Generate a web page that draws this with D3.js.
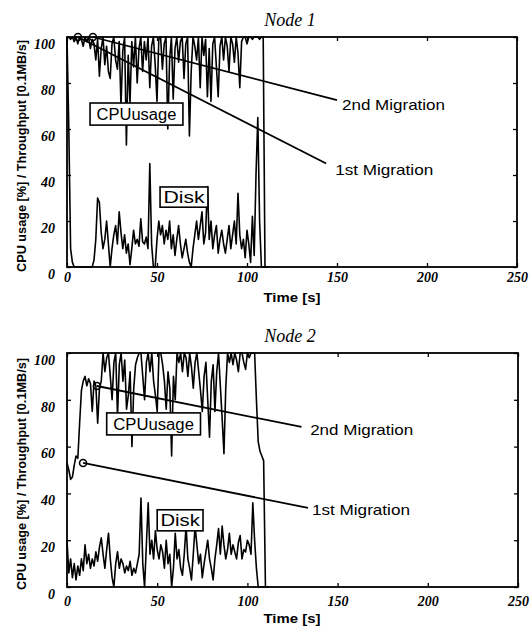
<!DOCTYPE html>
<meta charset="utf-8">
<style>
body { margin: 0; background: #fff; }
.frame { fill: none; stroke: #000; stroke-width: 1.8; }
.axis .domain { display: none; }
.axis .tick line { stroke: #000; stroke-width: 1.3; }
.axis .tick text { font-family: "Liberation Serif", serif; font-style: italic; font-weight: bold; font-size: 14px; fill: #000; }
.series { fill: none; stroke: #000; stroke-width: 1.6; stroke-linejoin: round; }
.note line { stroke: #000; stroke-width: 1.8; }
.note circle { fill: none; stroke: #000; stroke-width: 1.6; }
.note text, .box text { font-family: "Liberation Sans", Arial, sans-serif; font-size: 15px; fill: #000; }
.box rect { fill: #fff; stroke: #000; stroke-width: 1.6; }
.title { font-family: "Liberation Serif", serif; font-style: italic; font-size: 18px; }
.axis-label { font-family: "Liberation Sans", Arial, sans-serif; font-size: 12px; font-weight: bold; }
</style>
<svg width="530" height="631"></svg>
<script src="https://d3js.org/d3.v7.min.js"></script>
<script>

// sample times, one per second
var time = d3.range(0, 113);

var xTicks = [0, 50, 100, 150, 200, 250];
var yTicks = [0, 20, 40, 60, 80, 100];

var node1Cpu = [
  100,100,99,100,98,100,97,100,99,96,
  100,98,100,95,99,97,90,99,83,95,
  100,88,96,85,82,97,100,90,86,98,
  70,94,100,53,92,71,98,87,100,80,
  95,100,85,98,90,100,78,96,100,88,
  72,99,100,86,97,100,60,90,100,73,
  95,100,89,98,100,82,97,100,57,85,
  100,96,90,100,78,100,92,99,74,95,
  72,97,100,87,74,96,100,90,100,96,
  85,100,97,89,100,93,78,98,100,100,
  97,100,100,99,100,100,100,99,100,100,
  0,0,0];

var node1Disk = [
  100,60,8,2,0,0,0,0,0,0,
  0,0,0,0,0,3,12,30,28,15,
  8,12,20,10,0,8,14,18,10,24,
  15,8,14,6,10,1,8,16,10,12,
  9,21,11,10,13,8,45,10,0,0,
  12,20,14,18,10,16,12,20,8,14,
  5,12,18,10,4,8,12,6,2,0,
  8,14,20,12,18,24,10,15,35,12,
  20,8,14,18,6,12,16,10,6,12,
  18,8,14,20,10,32,14,8,12,4,
  16,10,2,22,5,40,65,20,0,0,
  0,0,0];

var node2Cpu = [
  53,50,46,47,52,56,55,70,84,88,
  90,86,89,87,75,88,86,70,85,88,
  100,92,98,100,90,80,96,100,73,95,
  100,88,97,76,82,92,60,85,95,98,
  100,100,90,80,96,100,92,100,88,82,
  75,100,100,95,88,76,92,85,56,90,
  80,100,96,100,92,100,98,90,100,94,
  85,96,100,92,84,75,90,96,80,64,
  88,95,75,92,100,86,72,57,85,100,
  96,100,95,100,97,92,100,100,96,93,
  100,98,100,100,100,80,62,58,56,54,
  0,0,0];

var node2Disk = [
  20,6,12,4,10,3,9,5,12,7,
  18,10,14,8,12,9,15,11,17,21,
  14,8,16,23,12,4,0,10,15,8,
  12,10,6,9,7,11,5,8,6,10,
  14,38,10,0,18,36,14,20,12,24,
  16,12,18,15,8,20,10,14,0,8,
  23,12,16,8,5,14,26,12,8,3,
  14,26,18,10,14,4,10,15,20,12,
  8,3,12,18,25,14,26,18,12,16,
  23,14,18,15,12,19,22,12,16,15,
  20,18,14,36,20,8,0,0,0,0,
  0,0,0];

// migration callouts: start point on curve -> end point, label anchor (time, value)
var node1Notes = [
  { label: "2nd Migration", t0: 14.4, v0: 100, t1: 150, v1: 72.6, tt: 152.8, tv: 70.5, w: 103 },
  { label: "1st Migration", t0: 6.1, v0: 100, t1: 144, v1: 45, tt: 149, tv: 42.2, w: 98 }
];
var node2Notes = [
  { label: "2nd Migration", t0: 16.6, v0: 85.9, t1: 130, v1: 68.4, tt: 134.8, tv: 67.1, w: 103 },
  { label: "1st Migration", t0: 8.9, v0: 53, t1: 133.6, v1: 33.8, tt: 135.8, tv: 32.9, w: 98 }
];

// boxed labels: time span and value span
var node1Boxes = [
  { label: "CPUusage", t0: 12.8, t1: 64.4, v0: 61.7, v1: 71.3 },
  { label: "Disk", t0: 51.7, t1: 78.3, v0: 26, v1: 34.8 }
];
var node2Boxes = [
  { label: "CPUusage", t0: 22, t1: 74, v0: 65, v1: 74.4 },
  { label: "Disk", t0: 50, t1: 75.4, v0: 24, v1: 33 }
];

var svg = d3.select("svg");

function drawPanel(p) {
  var x = d3.scaleLinear().domain([0, 250]).range([p.left, p.right]);
  var y = d3.scaleLinear().domain([0, 100]).range([p.bottom, p.top]);
  var g = svg.append("g");

  // data
  var line = d3.line()
      .x(function(d, i) { return x(time[i]); })
      .y(function(d) { return y(d); });

  g.append("path").attr("class", "series").attr("d", line(p.disk));
  g.append("path").attr("class", "series").attr("d", line(p.cpu));

  // callout lines
  var notes = g.selectAll(".note").data(p.notes).enter()
      .append("g").attr("class", "note");
  notes.append("line")
      .attr("x1", function(d) { return x(d.t0); })
      .attr("y1", function(d) { return y(d.v0); })
      .attr("x2", function(d) { return x(d.t1); })
      .attr("y2", function(d) { return y(d.v1); });
  notes.append("circle")
      .attr("cx", function(d) { return x(d.t0); })
      .attr("cy", function(d) { return y(d.v0); })
      .attr("r", 3.5);
  notes.append("text")
      .attr("x", function(d) { return x(d.tt); })
      .attr("y", function(d) { return y(d.tv); })
      .attr("dy", "0.36em")
      .attr("textLength", function(d) { return d.w; })
      .attr("lengthAdjust", "spacingAndGlyphs")
      .text(function(d) { return d.label; });

  // boxed labels
  var boxes = g.selectAll(".box").data(p.boxes).enter()
      .append("g").attr("class", "box");
  boxes.append("rect")
      .attr("x", function(d) { return x(d.t0); })
      .attr("y", function(d) { return y(d.v1); })
      .attr("width", function(d) { return x(d.t1) - x(d.t0); })
      .attr("height", function(d) { return y(d.v0) - y(d.v1); });
  boxes.append("text")
      .attr("x", function(d) { return (x(d.t0) + x(d.t1)) / 2; })
      .attr("y", function(d) { return (y(d.v0) + y(d.v1)) / 2; })
      .attr("dy", "0.36em")
      .attr("text-anchor", "middle")
      .attr("textLength", function(d) { return (x(d.t1) - x(d.t0)) * 0.86; })
      .attr("lengthAdjust", "spacingAndGlyphs")
      .style("font-size", "16px")
      .text(function(d) { return d.label; });

  // axes with inward ticks
  g.append("g").attr("class", "axis")
      .attr("transform", "translate(0," + p.bottom + ")")
      .call(d3.axisBottom(x).tickValues(xTicks).tickSizeInner(-4).tickSizeOuter(0).tickPadding(p.xPad));
  g.append("g").attr("class", "axis")
      .attr("transform", "translate(0," + p.top + ")")
      .call(d3.axisTop(x).tickValues(xTicks).tickSizeInner(-4).tickSizeOuter(0).tickFormat(""));
  g.append("g").attr("class", "axis")
      .attr("transform", "translate(" + p.left + ",0)")
      .call(d3.axisLeft(y).tickValues(yTicks).tickSizeInner(-4).tickSizeOuter(0).tickPadding(12))
    .selectAll("text").attr("dy", "0.8em");
  g.append("g").attr("class", "axis")
      .attr("transform", "translate(" + p.right + ",0)")
      .call(d3.axisRight(y).tickValues(yTicks).tickSizeInner(-4).tickSizeOuter(0).tickFormat(""));

  g.append("rect").attr("class", "frame")
      .attr("x", p.left).attr("y", p.top)
      .attr("width", p.right - p.left).attr("height", p.bottom - p.top);

  // titles
  g.append("text").attr("class", "title")
      .attr("x", 290).attr("y", p.top - 11)
      .attr("text-anchor", "middle")
      .text(p.title);
  g.append("text").attr("class", "axis-label")
      .attr("x", 292).attr("y", p.bottom + p.xLabelOff)
      .attr("text-anchor", "middle")
      .attr("textLength", 57)
      .attr("lengthAdjust", "spacingAndGlyphs")
      .text("Time [s]");
  g.append("text").attr("class", "axis-label")
      .attr("transform", "translate(26," + ((p.top + p.bottom) / 2 + 4) + ") rotate(-90)")
      .attr("text-anchor", "middle")
      .attr("textLength", 232)
      .attr("lengthAdjust", "spacingAndGlyphs")
      .text("CPU usage [%] / Throughput [0.1MB/s]");
}

drawPanel({ title: "Node 1", left: 67, right: 517, top: 37, bottom: 267, xPad: 5, xLabelOff: 35,
            cpu: node1Cpu, disk: node1Disk, notes: node1Notes, boxes: node1Boxes });
drawPanel({ title: "Node 2", left: 67, right: 518, top: 353, bottom: 587, xPad: 9, xLabelOff: 36,
            cpu: node2Cpu, disk: node2Disk, notes: node2Notes, boxes: node2Boxes });

</script>
